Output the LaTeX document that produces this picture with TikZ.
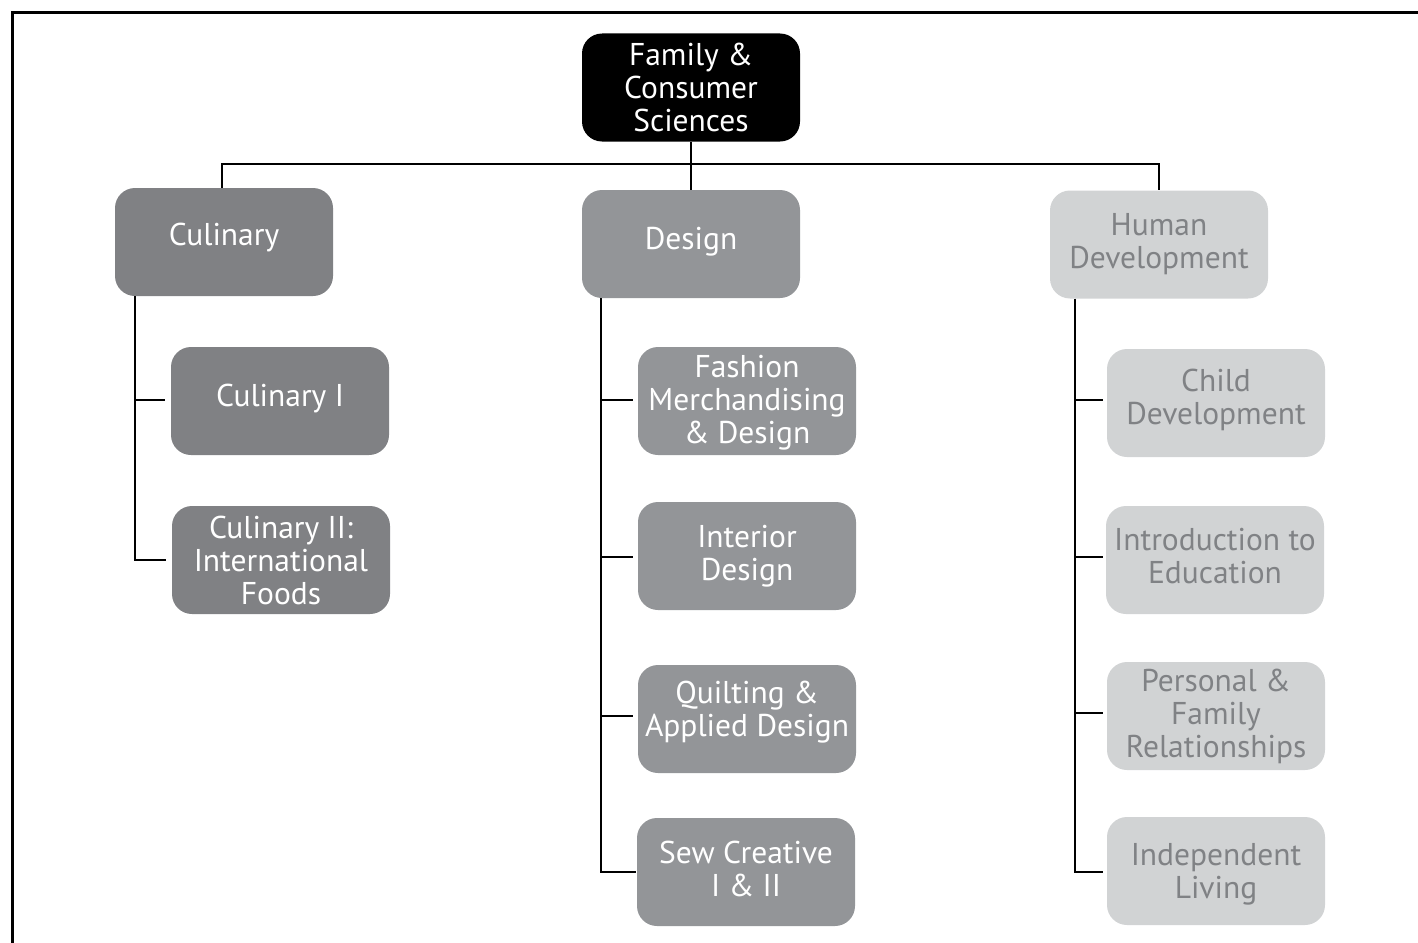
\documentclass[tikz,border=0pt]{standalone}
\usepackage{fontspec}
\setmainfont{PT Sans}
\definecolor{rootfill}{HTML}{000000}
\definecolor{culfill}{HTML}{808184}
\definecolor{desfill}{HTML}{939598}
\definecolor{humfill}{HTML}{D1D3D4}
\definecolor{humtext}{HTML}{808285}
\begin{document}
\begin{tikzpicture}[x=1pt,y=-1pt,
  box/.style={rounded corners=20pt, minimum width=218pt, minimum height=108pt,
    align=center, inner sep=0pt, font=\fontsize{31.5}{33}\selectfont},
  rootbox/.style={box, fill=rootfill, text=white},
  culbox/.style={box, fill=culfill, text=white},
  desbox/.style={box, fill=desfill, text=white},
  humbox/.style={box, fill=humfill, text=humtext},
  conn/.style={line width=2.5pt, black},
  frameline/.style={line width=3pt, black}]
\useasboundingbox (0,0) rectangle (1418,942);
\draw[frameline] (12,945) -- (12,13) -- (1421,13);

\node[rootbox] (root) at (691,87.5) {Family \&\\Consumer\\Sciences};

\node[culbox, text depth=15pt] (cul) at (224,242) {Culinary};
\node[desbox, text depth=11pt] (des) at (691,244) {Design};
\node[humbox] (hum) at (1159,244.5) {Human\\Development};

\node[culbox, text depth=11pt] (cul1) at (280,401) {Culinary I};
\node[culbox] (cul2) at (281,560) {Culinary II:\\International\\Foods};

\node[desbox, text depth=3pt] (fash) at (747,401) {Fashion\\Merchandising\\\& Design};
\node[desbox] (int) at (747,556) {Interior\\Design};
\node[desbox, text depth=21pt] (quilt) at (747,719) {Quilting \&\\Applied Design};
\node[desbox, text depth=6.5pt] (sew) at (746,872) {Sew Creative\\I \& II};

\node[humbox, text depth=13pt] (child) at (1216,403) {Child\\Development};
\node[humbox, text depth=8pt] (intro) at (1215,560) {Introduction to\\Education};
\node[humbox] (pers) at (1216,716) {Personal \&\\Family\\Relationships};
\node[humbox, text depth=1pt] (indep) at (1216,871) {Independent\\Living};

% top bus
\coordinate (busL) at (222,164);
\coordinate (busR) at (1159,164);
\draw[conn] (root.south) -- (des.north);
\draw[conn] (cul.north -| busL) -- (busL) -- (busR) -- (hum.north -| busR);

% culinary spine
\draw[conn] (cul.south -| 135,0) |- ([xshift=-6pt]cul2.west);
\draw[conn] (135,400) -- ([xshift=-6pt]cul1.west |- 0,400);

% design spine
\draw[conn] (des.south -| 601,0) |- ([xshift=-1pt]sew.west);
\draw[conn] (601,400) -- ([xshift=-5pt]fash.west |- 0,400);
\draw[conn] (601,557) -- ([xshift=-5pt]int.west |- 0,557);
\draw[conn] (601,716) -- ([xshift=-5pt]quilt.west |- 0,716);

% human spine
\draw[conn] (hum.south -| 1075,0) |- ([xshift=-4pt]indep.west |- 0,872);
\draw[conn] (1075,400) -- ([xshift=-4pt]child.west |- 0,400);
\draw[conn] (1075,557) -- ([xshift=-3pt]intro.west |- 0,557);
\draw[conn] (1075,713) -- ([xshift=-4pt]pers.west |- 0,713);
\end{tikzpicture}
\end{document}
